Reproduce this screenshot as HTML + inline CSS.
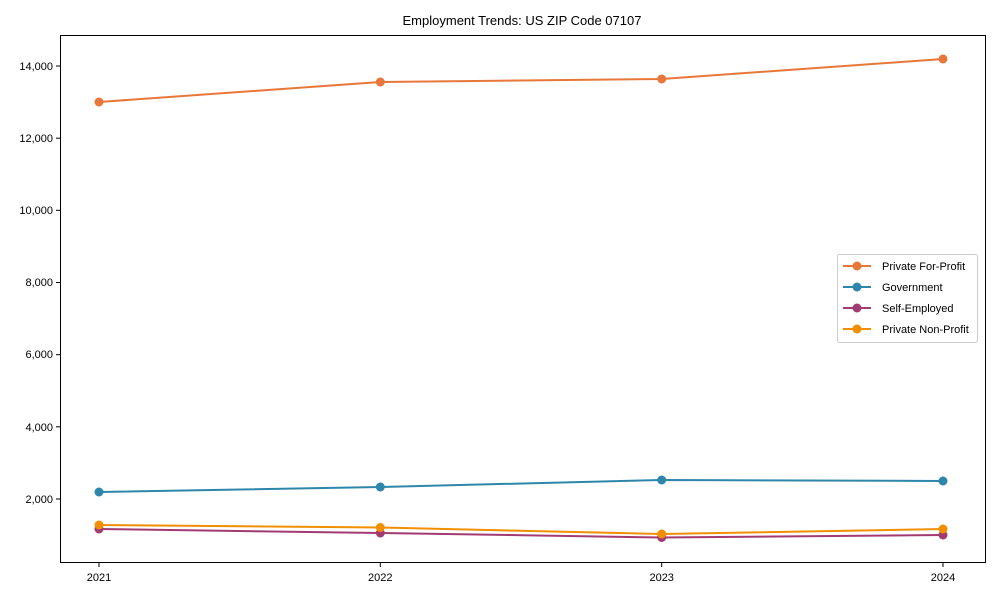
<!DOCTYPE html>
<html><head><meta charset="utf-8"><style>
body{margin:0;background:#fff;}
svg text{font-family:"Liberation Sans",Arial,sans-serif;fill:#000;}
</style></head><body>
<svg width="1000" height="600" xmlns="http://www.w3.org/2000/svg">
<rect width="1000" height="600" fill="#fff"/>
<text x="522" y="25" font-size="13" text-anchor="middle">Employment Trends: US ZIP Code 07107</text>
<rect x="60.5" y="35.5" width="925" height="527" fill="none" stroke="#000" stroke-width="1"/>
<g font-size="11" text-anchor="end">
<line x1="56" x2="60" y1="66" y2="66" stroke="#000"/><text x="53" y="70">14,000</text>
<line x1="56" x2="60" y1="138.2" y2="138.2" stroke="#000"/><text x="53" y="142">12,000</text>
<line x1="56" x2="60" y1="210.3" y2="210.3" stroke="#000"/><text x="53" y="214">10,000</text>
<line x1="56" x2="60" y1="282.5" y2="282.5" stroke="#000"/><text x="53" y="286">8,000</text>
<line x1="56" x2="60" y1="354.7" y2="354.7" stroke="#000"/><text x="53" y="358">6,000</text>
<line x1="56" x2="60" y1="426.8" y2="426.8" stroke="#000"/><text x="53" y="431">4,000</text>
<line x1="56" x2="60" y1="499" y2="499" stroke="#000"/><text x="53" y="503">2,000</text>
</g>
<g font-size="11" text-anchor="middle">
<line x1="99" x2="99" y1="563" y2="567" stroke="#000"/><text x="99" y="581">2021</text>
<line x1="380.3" x2="380.3" y1="563" y2="567" stroke="#000"/><text x="380.3" y="581">2022</text>
<line x1="661.7" x2="661.7" y1="563" y2="567" stroke="#000"/><text x="661.7" y="581">2023</text>
<line x1="943" x2="943" y1="563" y2="567" stroke="#000"/><text x="943" y="581">2024</text>
</g>
<g stroke-width="2" fill="none">
<polyline stroke="#e8773a" points="99,102 380.3,82 661.7,79 943,59"/>
<polyline stroke="#2e86ab" points="99,492 380.3,487 661.7,480 943,481"/>
<polyline stroke="#a23b72" points="99,529 380.3,533 661.7,537.5 943,535"/>
<polyline stroke="#f18f01" points="99,525 380.3,527.5 661.7,534 943,529"/>
</g>
<g fill="#e8773a"><circle cx="99" cy="102" r="4.5"/><circle cx="380.3" cy="82" r="4.5"/><circle cx="661.7" cy="79" r="4.5"/><circle cx="943" cy="59" r="4.5"/></g>
<g fill="#2e86ab"><circle cx="99" cy="492" r="4.5"/><circle cx="380.3" cy="487" r="4.5"/><circle cx="661.7" cy="480" r="4.5"/><circle cx="943" cy="481" r="4.5"/></g>
<g fill="#a23b72"><circle cx="99" cy="529" r="4.5"/><circle cx="380.3" cy="533" r="4.5"/><circle cx="661.7" cy="537.5" r="4.5"/><circle cx="943" cy="535" r="4.5"/></g>
<g fill="#f18f01"><circle cx="99" cy="525" r="4.5"/><circle cx="380.3" cy="527.5" r="4.5"/><circle cx="661.7" cy="534" r="4.5"/><circle cx="943" cy="529" r="4.5"/></g>
<rect x="837.5" y="254.5" width="140" height="88" fill="#fff" stroke="#ccc" rx="2"/>
<g font-size="11">
<line x1="843" x2="871" y1="266" y2="266" stroke="#e8773a" stroke-width="2"/><circle cx="857" cy="266" r="4.5" fill="#e8773a"/><text x="882" y="270">Private For-Profit</text>
<line x1="843" x2="871" y1="287" y2="287" stroke="#2e86ab" stroke-width="2"/><circle cx="857" cy="287" r="4.5" fill="#2e86ab"/><text x="882" y="291">Government</text>
<line x1="843" x2="871" y1="308" y2="308" stroke="#a23b72" stroke-width="2"/><circle cx="857" cy="308" r="4.5" fill="#a23b72"/><text x="882" y="312">Self-Employed</text>
<line x1="843" x2="871" y1="329" y2="329" stroke="#f18f01" stroke-width="2"/><circle cx="857" cy="329" r="4.5" fill="#f18f01"/><text x="882" y="333">Private Non-Profit</text>
</g>
</svg>
</body></html>
